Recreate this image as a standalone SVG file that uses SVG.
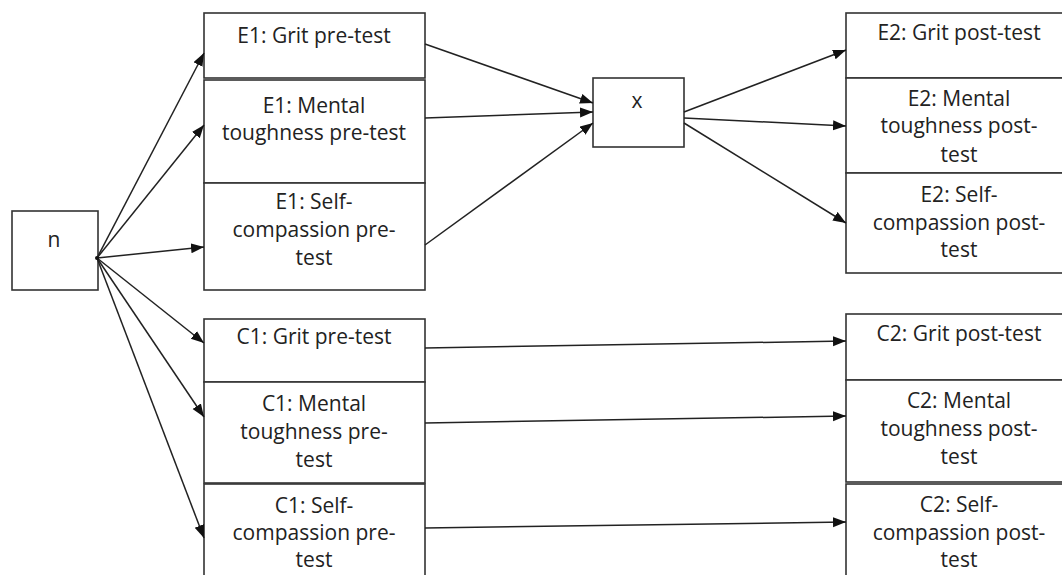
<svg xmlns="http://www.w3.org/2000/svg" width="1062" height="575" viewBox="0 0 1062 575">
<style>
.box{fill:#fff;stroke:#333;stroke-width:1.6}
.t{font-family:"Open Sans","Liberation Sans",sans-serif;font-size:21px;fill:#222;text-anchor:middle}
.c{stroke:#222;stroke-width:1.5;fill:none;marker-end:url(#ah)}
</style>
<defs>
<marker id="ah" markerUnits="userSpaceOnUse" markerWidth="14" markerHeight="12" refX="13" refY="5" orient="auto">
<path d="M0,0 L13,5 L0,10 z" fill="#111"/>
</marker>
</defs>
<rect width="1062" height="575" fill="#fff"/>
<g id="node-n"><rect class="box" x="12" y="211" width="86" height="79"/><text class="t" x="54" y="247">n</text></g>
<g id="node-e1-grit"><rect class="box" x="204" y="13" width="221" height="65"/><text class="t" x="314" y="43">E1: Grit pre-test</text></g>
<g id="node-e1-mental"><rect class="box" x="204" y="80" width="221" height="103"/><text class="t" x="314" y="113">E1: Mental</text><text class="t" x="314" y="140">toughness pre-test</text></g>
<g id="node-e1-self"><rect class="box" x="204" y="183" width="221" height="107"/><text class="t" x="314" y="209">E1: Self-</text><text class="t" x="314" y="237">compassion pre-</text><text class="t" x="314" y="265">test</text></g>
<g id="node-x"><rect class="box" x="593" y="78" width="91" height="69"/><text class="t" x="637" y="108">x</text></g>
<g id="node-e2-grit"><rect class="box" x="846" y="13" width="230" height="65"/><text class="t" x="959" y="40">E2: Grit post-test</text></g>
<g id="node-e2-mental"><rect class="box" x="846" y="78" width="230" height="95"/><text class="t" x="959" y="106">E2: Mental</text><text class="t" x="959" y="133">toughness post-</text><text class="t" x="959" y="162">test</text></g>
<g id="node-e2-self"><rect class="box" x="846" y="173" width="230" height="100"/><text class="t" x="959" y="202">E2: Self-</text><text class="t" x="959" y="230">compassion post-</text><text class="t" x="959" y="257">test</text></g>
<g id="node-c1-grit"><rect class="box" x="204" y="319" width="221" height="63"/><text class="t" x="314" y="344">C1: Grit pre-test</text></g>
<g id="node-c1-mental"><rect class="box" x="204" y="382" width="221" height="101"/><text class="t" x="314" y="411">C1: Mental</text><text class="t" x="314" y="439">toughness pre-</text><text class="t" x="314" y="467">test</text></g>
<g id="node-c1-self"><rect class="box" x="204" y="484" width="221" height="101"/><text class="t" x="314" y="513">C1: Self-</text><text class="t" x="314" y="540">compassion pre-</text><text class="t" x="314" y="567">test</text></g>
<g id="node-c2-grit"><rect class="box" x="846" y="314" width="230" height="66"/><text class="t" x="959" y="341">C2: Grit post-test</text></g>
<g id="node-c2-mental"><rect class="box" x="846" y="380" width="230" height="102"/><text class="t" x="959" y="408">C2: Mental</text><text class="t" x="959" y="436">toughness post-</text><text class="t" x="959" y="464">test</text></g>
<g id="node-c2-self"><rect class="box" x="846" y="484" width="230" height="101"/><text class="t" x="959" y="512">C2: Self-</text><text class="t" x="959" y="540">compassion post-</text><text class="t" x="959" y="567">test</text></g>
<g id="connectors">
<line class="c" x1="97" y1="258" x2="204" y2="53"/>
<line class="c" x1="97" y1="258" x2="204" y2="125"/>
<line class="c" x1="97" y1="258" x2="204" y2="247"/>
<line class="c" x1="97" y1="258" x2="204" y2="343"/>
<line class="c" x1="97" y1="258" x2="204" y2="417"/>
<line class="c" x1="97" y1="258" x2="204" y2="538"/>
<line class="c" x1="425" y1="44" x2="593" y2="103"/>
<line class="c" x1="425" y1="118" x2="593" y2="112"/>
<line class="c" x1="425" y1="245" x2="593" y2="123"/>
<line class="c" x1="684" y1="112" x2="846" y2="50"/>
<line class="c" x1="684" y1="118" x2="846" y2="126"/>
<line class="c" x1="684" y1="123" x2="846" y2="223"/>
<line class="c" x1="425" y1="348" x2="846" y2="341"/>
<line class="c" x1="425" y1="423" x2="846" y2="416"/>
<line class="c" x1="425" y1="528" x2="846" y2="522"/>
<circle cx="97" cy="258" r="2" fill="#111"/>
</g>
</svg>
